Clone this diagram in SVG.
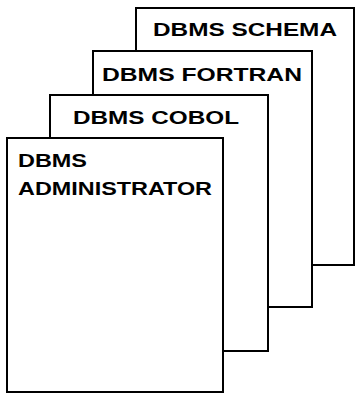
<svg xmlns="http://www.w3.org/2000/svg" width="357" height="394" viewBox="0 0 357 394">
<style>
.box{fill:#fff;stroke:#000;stroke-width:2}
.t{font-family:"Liberation Sans",Arial,sans-serif;font-weight:bold;font-size:19px;fill:#000}
</style>
<rect width="357" height="394" fill="#fff"/>
<g id="schema"><rect class="box" x="136" y="8" width="218" height="257"/><text class="t" x="153" y="36" textLength="184" lengthAdjust="spacingAndGlyphs">DBMS SCHEMA</text></g>
<g id="fortran"><rect class="box" x="93" y="51" width="219" height="256"/><text class="t" x="102" y="81" textLength="200" lengthAdjust="spacingAndGlyphs">DBMS FORTRAN</text></g>
<g id="cobol"><rect class="box" x="50" y="95" width="218" height="256"/><text class="t" x="73" y="124" textLength="166" lengthAdjust="spacingAndGlyphs">DBMS COBOL</text></g>
<g id="administrator"><rect class="box" x="7" y="138" width="216" height="254"/><text class="t" x="18" y="167" textLength="69" lengthAdjust="spacingAndGlyphs">DBMS</text><text class="t" x="18" y="195" textLength="194" lengthAdjust="spacingAndGlyphs">ADMINISTRATOR</text></g>
<g id="connectors"/>
</svg>
